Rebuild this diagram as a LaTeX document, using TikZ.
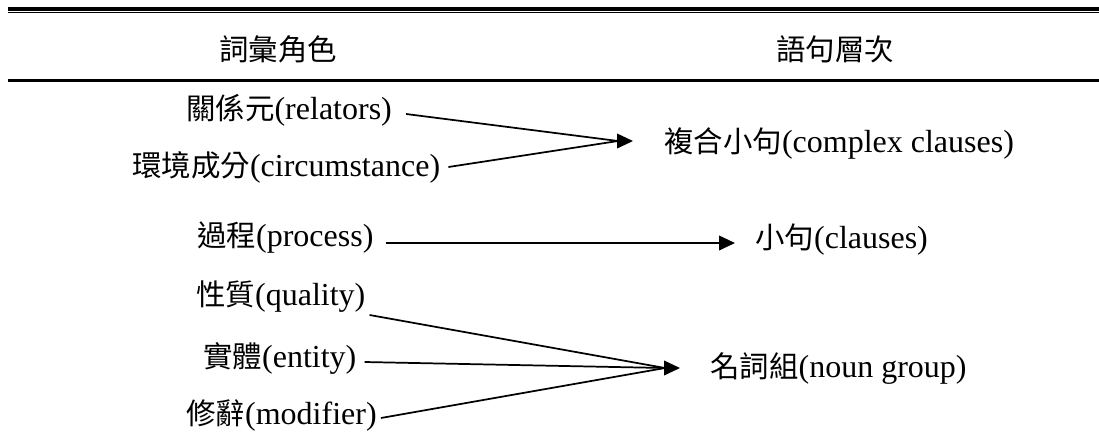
\documentclass[tikz,border=0pt]{standalone}
\usepackage{fontspec}
\setmainfont{Liberation Serif}
\newfontfamily\cjk{Noto Sans CJK TC}[Scale=0.92]
\usetikzlibrary{arrows.meta}
\begin{document}
\begin{tikzpicture}[x=0.75pt,y=-0.75pt,
  txt/.style={inner sep=0pt,anchor=base west,font=\fontsize{24}{28}\selectfont},
  hdr/.style={inner sep=0pt,font=\fontsize{24}{28}\selectfont\cjk},
  conn/.style={line width=1.3pt},
  arr/.style={line width=1.3pt,-{Triangle[length=12pt,width=11pt]}},
  rulethick/.style={line width=2.4pt},
  rulethin/.style={line width=1pt}]
\useasboundingbox (0,0) rectangle (1099,444);
% table rules
\coordinate (r1a) at (8,9);   \coordinate (r1b) at (1099,9);
\coordinate (r2a) at (8,12.8);\coordinate (r2b) at (1099,12.8);
\coordinate (r3a) at (8,80.5);\coordinate (r3b) at (1099,80.5);
\draw[rulethick] (r1a) -- (r1b);
\draw[rulethin] (r2a) -- (r2b);
\draw[rulethick] (r3a) -- (r3b);
% headers
\node[hdr] (hL) at (278,49) {詞彙角色};
\node[hdr] (hR) at (835,49) {語句層次};
% left column
\node[txt] (rel)  at (186,119) {{\cjk 關係元}(relators)};
\node[txt] (circ) at (132,176) {{\cjk 環境成分}(circumstance)};
\node[txt] (proc) at (197,246) {{\cjk 過程}(process)};
\node[txt] (qual) at (196,305) {{\cjk 性質}(quality)};
\node[txt] (ent)  at (203,367) {{\cjk 實體}(entity)};
\node[txt] (mod)  at (186,424) {{\cjk 修辭}(modifier)};
% right column
\node[txt] (cc)   at (664,152) {{\cjk 複合小句}(complex clauses)};
\node[txt] (cl)   at (755,248) {{\cjk 小句}(clauses)};
\node[txt] (ng)   at (710,377) {{\cjk 名詞組}(noun group)};
% arrow heads
\coordinate (t1) at (633,141);
\coordinate (b1) at (618,141);
\coordinate (t2) at (735,243);
\coordinate (t3) at (680,368);
\coordinate (b3) at (665,368);
% connectors
\draw[conn] ([shift={(14,-5)}]rel.base east) -- (b1);
\draw[conn] ([shift={(8,-9)}]circ.base east) -- (b1);
\draw[arr] ([shift={(-17,0)}]t1) -- (t1);
\draw[arr] ([shift={(12,-3)}]proc.base east) -- (t2);
\draw[conn] ([shift={(4,10)}]qual.base east) -- (b3);
\draw[conn] ([shift={(8,-5)}]ent.base east) -- (b3);
\draw[conn] ([shift={(4,-6)}]mod.base east) -- (b3);
\draw[arr] ([shift={(-17,0)}]t3) -- (t3);
\end{tikzpicture}
\end{document}
